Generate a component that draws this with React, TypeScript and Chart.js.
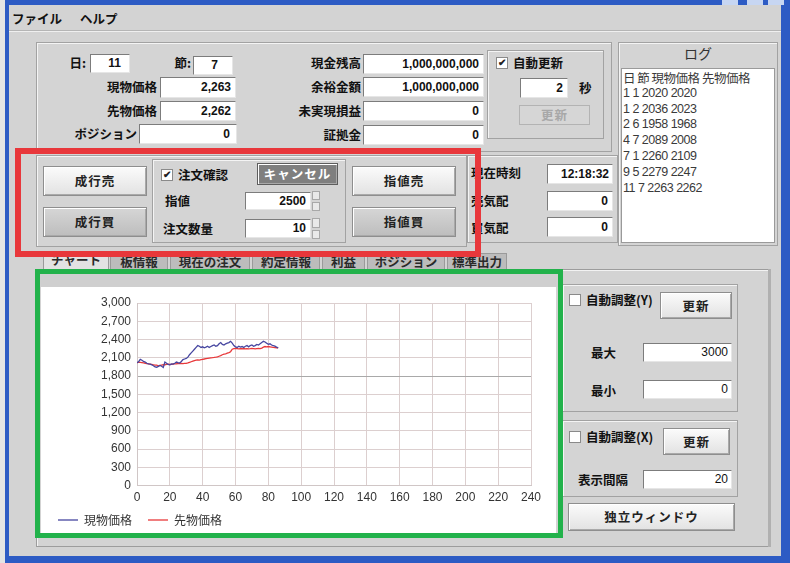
import React, { useEffect, useRef } from "react";
import { Chart, registerables } from "chart.js";

Chart.register(...registerables);

// ---- chart data ----
const spotPrices = [
  2020, 2036, 2075, 2060, 2040, 2030, 2010, 2000, 1995, 1985,
  1970, 1950, 1945, 1958, 1975, 1960, 1940, 2030, 2010, 1990,
  1985, 2000, 1995, 2010, 2030, 2020, 2015, 2040, 2070, 2080,
  2089, 2110, 2150, 2180, 2210, 2240, 2270, 2300, 2290, 2270,
  2280, 2265, 2275, 2290, 2270, 2285, 2300, 2310, 2290, 2300,
  2330, 2350, 2320, 2310, 2330, 2340, 2350, 2370, 2340, 2300,
  2280, 2270, 2290, 2275, 2285, 2270, 2290, 2300, 2279, 2300,
  2310, 2290, 2300, 2320, 2310, 2330, 2350, 2370, 2360, 2340,
  2320, 2330, 2310, 2300, 2290, 2275, 2263,
];
const futuresPrices = [
  2020, 2023, 2025, 2020, 2015, 2010, 2005, 2000, 1995, 1990,
  1985, 1980, 1978, 1968, 1975, 1980, 1985, 1982, 1990, 1995,
  1990, 1992, 1998, 2000, 2002, 2005, 2008, 2006, 2004, 2008,
  2008, 2015, 2025, 2035, 2045, 2055, 2060, 2065, 2062, 2070,
  2075, 2080, 2085, 2090, 2095, 2100, 2102, 2105, 2109, 2115,
  2125, 2135, 2150, 2160, 2165, 2175, 2185, 2200, 2240, 2250,
  2255, 2250, 2245, 2250, 2248, 2252, 2245, 2250, 2247, 2250,
  2255, 2250, 2245, 2250, 2255, 2250, 2260, 2275, 2285, 2280,
  2285, 2280, 2275, 2270, 2268, 2265, 2262,
];
const seriesNames = ["現物価格", "先物価格"];
const xMin = 0, xMax = 240, xStep = 20;
const yMin = 0, yMax = 3000, yStep = 300;

// ---- UI texts ----
const logLines = [
  "日 節 現物価格 先物価格",
  "1 1 2020 2020",
  "1 2 2036 2023",
  "2 6 1958 1968",
  "4 7 2089 2008",
  "7 1 2260 2109",
  "9 5 2279 2247",
  "11 7 2263 2262",
];
const tabs = ["チャート", "板情報", "現在の注文", "約定情報", "利益", "ポジション", "標準出力"];

const JP = '"Noto Sans CJK JP", "Liberation Sans", sans-serif';
const AR = '"Liberation Sans", Arial, "Noto Sans CJK JP", sans-serif';

type P = { x: number; y: number; w?: number; h?: number };

function Label({ x, y, text, right, size = 12.5, bold = true, color = "#111", family = JP }: { x: number; y: number; text: string; right?: boolean; size?: number; bold?: boolean; color?: string; family?: string }) {
  const style: React.CSSProperties = {
    position: "absolute",
    top: y - 10,
    height: 20,
    lineHeight: "20px",
    fontFamily: family,
    fontWeight: bold ? 700 : 400,
    fontSize: size,
    color,
    whiteSpace: "nowrap",
  };
  if (right) {
    style.right = 790 - x;
  } else {
    style.left = x;
  }
  return <div style={style}>{text}</div>;
}

function Input({ x, y, w = 60, h = 20, value, bold = true, pad = 4, center }: P & { value: string; bold?: boolean; pad?: number; center?: boolean }) {
  return (
    <div
      style={{
        position: "absolute",
        left: x,
        top: y,
        width: w,
        height: h,
        boxSizing: "border-box",
        background: "#fff",
        borderTop: "1px solid #7c7c7c",
        borderLeft: "1px solid #7c7c7c",
        borderBottom: "1px solid #e6e6e6",
        borderRight: "1px solid #e6e6e6",
        fontFamily: AR,
        fontWeight: bold ? 700 : 400,
        fontSize: 12,
        color: "#111",
        textAlign: center ? "center" : "right",
        paddingRight: pad,
        lineHeight: h - 2 + "px",
      }}
    >
      {value}
    </div>
  );
}

function Button({ x, y, w = 80, h = 28, text, variant = "light" }: P & { text: string; variant?: "light" | "dark" | "cancel" | "disabled" }) {
  let bg = "linear-gradient(#fbfbfb, #e2e2e2)";
  let color = "#222";
  let border = "1px solid #8e8e8e";
  if (variant === "dark") bg = "linear-gradient(#d6d6d6, #bdbdbd)";
  if (variant === "cancel") {
    bg = "#7f7f7f";
    color = "#fff";
    border = "1px solid #5e5e5e";
  }
  if (variant === "disabled") {
    bg = "#d6d6d6";
    color = "#a8a8a8";
    border = "1px solid #b3b3b3";
  }
  return (
    <div
      style={{
        position: "absolute",
        left: x,
        top: y,
        width: w,
        height: h,
        boxSizing: "border-box",
        background: bg,
        border,
        boxShadow: variant === "disabled" ? "none" : "inset 1px 1px 0 #ffffff, inset -1px -1px 0 #a9a9a9",
        fontFamily: JP,
        fontWeight: 700,
        fontSize: 12.5,
        color,
        textAlign: "center",
        lineHeight: h - 2 + "px",
        letterSpacing: 1,
      }}
    >
      {text}
    </div>
  );
}

function Panel({ x, y, w = 100, h = 100, bg = "#d4d4d4" }: P & { bg?: string }) {
  return (
    <div
      style={{
        position: "absolute",
        left: x,
        top: y,
        width: w,
        height: h,
        boxSizing: "border-box",
        background: bg,
        border: "1px solid #a2a2a2",
        boxShadow: "inset 1px 1px 0 #f4f4f4",
      }}
    />
  );
}

function Check({ x, y, checked, text }: { x: number; y: number; checked: boolean; text: string }) {
  return (
    <>
      <div
        style={{
          position: "absolute",
          left: x,
          top: y - 6,
          width: 12,
          height: 12,
          boxSizing: "border-box",
          background: "#fff",
          border: "1px solid #8a8a8a",
          fontSize: 10,
          lineHeight: "10px",
          textAlign: "center",
          color: "#222",
          fontFamily: AR,
          fontWeight: 700,
        }}
      >
        {checked ? "✔" : ""}
      </div>
      <Label x={x + 17} y={y} text={text} />
    </>
  );
}

function Spinner({ x, y, h }: { x: number; y: number; h: number }) {
  return (
    <div style={{ position: "absolute", left: x, top: y, width: 8, height: h, boxSizing: "border-box" }}>
      <div style={{ height: h / 2 - 1, background: "#e9e9e9", border: "1px solid #a8a8a8", boxSizing: "border-box" }} />
      <div style={{ height: h / 2 - 1, marginTop: 2, background: "#e9e9e9", border: "1px solid #a8a8a8", boxSizing: "border-box" }} />
    </div>
  );
}

// nudges the legend row up so it sits close under the x-axis labels
const legendShift = {
  id: "legendShift",
  afterLayout(chart: any) {
    const l = chart.legend;
    if (l) {
      l.top -= 12;
      l.bottom -= 12;
    }
  },
};

function PriceChart() {
  const ref = useRef<HTMLCanvasElement | null>(null);
  useEffect(() => {
    if (!ref.current) return;
    const chart = new Chart(ref.current, {
      type: "line",
      data: {
        datasets: [
          {
            label: seriesNames[0],
            data: spotPrices.map((v, i) => ({ x: i, y: v })),
            borderColor: "#4646a0",
            backgroundColor: "#4646a0",
            borderWidth: 1.3,
            pointRadius: 0,
            tension: 0,
          },
          {
            label: seriesNames[1],
            data: futuresPrices.map((v, i) => ({ x: i, y: v })),
            borderColor: "#e8383a",
            backgroundColor: "#e8383a",
            borderWidth: 1.3,
            pointRadius: 0,
            tension: 0,
          },
        ],
      },
      plugins: [legendShift],
      options: {
        animation: false,
        responsive: false,
        maintainAspectRatio: false,
        layout: { padding: { left: 1, right: 25, top: 16, bottom: 0 } },
        scales: {
          x: {
            type: "linear",
            min: xMin,
            max: xMax,
            ticks: { stepSize: xStep, padding: 5, color: "#333", font: { family: AR, size: 12 }, maxRotation: 0 },
            grid: { drawTicks: false, color: "#dccfcf" },
            border: { color: "#d0c6c6" },
          },
          y: {
            min: yMin,
            max: yMax,
            ticks: {
              stepSize: yStep,
              padding: 6,
              color: "#333",
              font: { family: AR, size: 12 },
              callback: (v: any) => Number(v).toLocaleString("en-US"),
            },
            grid: {
              drawTicks: false,
              color: (c: any) => (c.tick && c.tick.value === 1800 ? "#a9a9a9" : "#dccfcf"),
            },
            border: { color: "#d0c6c6" },
            afterFit: (s: any) => {
              s.width = 95;
            },
          },
        },
        plugins: {
          legend: {
            position: "bottom",
            align: "start",
            labels: {
              usePointStyle: true,
              pointStyle: "line",
              pointStyleWidth: 20,
              boxHeight: 12,
              padding: 16,
              color: "#333",
              font: { family: JP, size: 12 },
            },
          },
          tooltip: { enabled: false },
        },
      },
    });
    return () => chart.destroy();
  }, []);
  return <canvas ref={ref} width={515} height={261} style={{ position: "absolute", left: 41, top: 287, width: 515, height: 261 }} />;
}

export default function App() {
  return (
    <div style={{ position: "fixed", left: 0, top: 0, width: 790, height: 563, overflow: "hidden", background: "#e4e4e4" }}>
      {/* window frame */}
      <div style={{ position: "absolute", left: 5, top: 0, width: 785, height: 563, background: "#2d5bc4" }} />
      <div style={{ position: "absolute", left: 722, top: 0, width: 16, height: 5, background: "#c7d6f2" }} />
      <div style={{ position: "absolute", left: 747, top: 0, width: 16, height: 5, background: "#c7d6f2" }} />
      <div style={{ position: "absolute", left: 768, top: 0, width: 16, height: 5, background: "#c7d6f2" }} />
      <div style={{ position: "absolute", left: 9, top: 5, width: 772, height: 551, background: "#d3d3d3" }} />
      {/* menu */}
      <Label x={12} y={19} text="ファイル" />
      <Label x={80} y={19} text="ヘルプ" />
      <div style={{ position: "absolute", left: 9, top: 30, width: 772, height: 1, background: "#b5b5b5" }} />
      <div style={{ position: "absolute", left: 9, top: 31, width: 772, height: 1, background: "#efefef" }} />

      {/* top info panel */}
      <Panel x={36} y={42} w={576} h={110} />
      <Label x={86} y={63} text="日:" right />
      <Input x={90} y={54} w={40} h={19} value="11" pad={8} />
      <Label x={191} y={63} text="節:" right />
      <Input x={193} y={56} w={40} h={19} value="7" pad={14} />
      <Label x={157} y={87} text="現物価格" right />
      <Input x={160} y={77} w={76} h={21} value="2,263" />
      <Label x={157} y={111} text="先物価格" right />
      <Input x={160} y={101} w={76} h={20} value="2,262" />
      <Label x={137} y={134} text="ポジション" right />
      <Input x={139} y={124} w={98} h={20} value="0" pad={6} />

      <Label x={361} y={63} text="現金残高" right />
      <Input x={363} y={54} w={121} h={20} value="1,000,000,000" />
      <Label x={361} y={87} text="余裕金額" right />
      <Input x={363} y={77} w={121} h={20} value="1,000,000,000" />
      <Label x={361} y={111} text="未実現損益" right />
      <Input x={363} y={101} w={121} h={20} value="0" />
      <Label x={361} y={135} text="証拠金" right />
      <Input x={363} y={125} w={121} h={20} value="0" />

      <Panel x={487} y={50} w={117} h={89} />
      <Check x={496} y={63} checked text="自動更新" />
      <Input x={520} y={78} w={48} h={20} value="2" />
      <Label x={579} y={88} text="秒" />
      <Button x={519} y={105} w={71} h={20} text="更新" variant="disabled" />

      {/* log panel */}
      <Panel x={618} y={42} w={160} h={204} />
      <Label x={684} y={53} text="ログ" bold={false} size={14} color="#333" />
      <div
        style={{
          position: "absolute",
          left: 621,
          top: 68,
          width: 154,
          height: 175,
          boxSizing: "border-box",
          background: "#fff",
          border: "1px solid #9a9a9a",
          padding: "1px 0 0 1px",
          fontFamily: AR,
          fontSize: 12.5,
          letterSpacing: -0.5,
          lineHeight: "15.8px",
          color: "#3a3a3a",
        }}
      >
        {logLines.map((l, i) => (
          <div key={i} style={{ whiteSpace: "nowrap", fontFamily: i === 0 ? JP : AR }}>
            {l}
          </div>
        ))}
      </div>

      {/* order panel */}
      <Panel x={36} y={155} w={431} h={92} />
      <Button x={43} y={166} w={104} h={30} text="成行売" />
      <Button x={43} y={207} w={104} h={30} text="成行買" variant="dark" />
      <Panel x={152} y={159} w={194} h={84} />
      <Check x={161} y={175} checked text="注文確認" />
      <Button x={257} y={163} w={81} h={22} text="キャンセル" variant="cancel" />
      <Label x={165} y={201} text="指値" />
      <Input x={245} y={192} w={66} h={18} value="2500" />
      <Spinner x={312} y={191} h={20} />
      <Label x={163} y={229} text="注文数量" />
      <Input x={245} y={219} w={66} h={19} value="10" />
      <Spinner x={312} y={218} h={21} />
      <Button x={352} y={166} w={104} h={30} text="指値売" />
      <Button x={352} y={207} w={104} h={30} text="指値買" variant="dark" />

      <Panel x={467} y={155} w={151} h={88} />
      <Label x={471} y={173} text="現在時刻" />
      <Input x={547} y={164} w={66} h={20} value="12:18:32" pad={3} />
      <Label x={471} y={201} text="売気配" />
      <Input x={547} y={191} w={66} h={20} value="0" />
      <Label x={471} y={228} text="買気配" />
      <Input x={547} y={217} w={66} h={20} value="0" />

      {/* tab content panel */}
      <div style={{ position: "absolute", left: 36, top: 269, width: 734, height: 278, boxSizing: "border-box", border: "1px solid #9c9c9c", boxShadow: "inset 1px 1px 0 #f2f2f2", background: "#d3d3d3" }} />
      {/* tabs */}
      {(() => {
        const xs = [43, 110, 170, 252, 322, 367, 447];
        const ws = [66, 58, 80, 68, 43, 78, 60];
        return tabs.map((t, i) => (
          <div
            key={t}
            style={{
              position: "absolute",
              left: xs[i],
              top: i === 0 ? 251 : 253,
              width: ws[i],
              height: i === 0 ? 19 : 16,
              boxSizing: "border-box",
              background: i === 0 ? "#e2e2e2" : "#bcbcbc",
              border: "1px solid #9a9a9a",
              borderBottom: "none",
              fontFamily: JP,
              fontWeight: 700,
              fontSize: 12.5,
              color: "#2a2a2a",
              textAlign: "center",
              lineHeight: "16px",
              whiteSpace: "nowrap",
            }}
          >
            {t}
          </div>
        ));
      })()}

      {/* chart panel */}
      <div style={{ position: "absolute", left: 40, top: 273, width: 518, height: 14, background: "#cfcfcf" }} />
      <div style={{ position: "absolute", left: 41, top: 287, width: 515, height: 246, background: "#ffffff" }} />
      <PriceChart />

      {/* right controls */}
      <Panel x={562} y={284} w={176} h={128} />
      <Check x={569} y={300} checked={false} text="自動調整(Y)" />
      <Button x={660} y={292} w={72} h={27} text="更新" />
      <Label x={591} y={353} text="最大" />
      <Input x={643} y={343} w={89} h={19} value="3000" bold={false} pad={3} />
      <Label x={591} y={391} text="最小" />
      <Input x={643} y={380} w={89} h={19} value="0" bold={false} pad={3} />
      <Panel x={562} y={420} w={176} h={77} />
      <Check x={569} y={437} checked={false} text="自動調整(X)" />
      <Button x={663} y={428} w={67} h={27} text="更新" />
      <Label x={578} y={480} text="表示間隔" />
      <Input x={643} y={470} w={89} h={19} value="20" bold={false} pad={3} />
      <Button x={568} y={503} w={167} h={28} text="独立ウィンドウ" />
      <div style={{ position: "absolute", left: 768, top: 269, width: 3, height: 278, background: "#b0b0b0" }} />

      {/* highlight overlays */}
      <div style={{ position: "absolute", left: 15, top: 148, width: 466, height: 109, boxSizing: "border-box", border: "6px solid #e8373b", pointerEvents: "none" }} />
      <div style={{ position: "absolute", left: 35, top: 269, width: 528, height: 269, boxSizing: "border-box", border: "5px solid #22b24b", pointerEvents: "none" }} />
    </div>
  );
}
